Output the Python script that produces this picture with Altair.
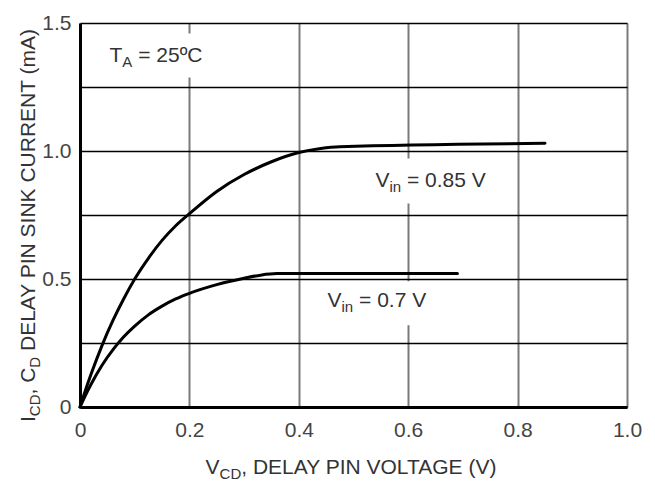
import altair as alt
import pandas as pd

# ---------------- data ----------------
x_085 = [0, 0.01, 0.02, 0.04, 0.06, 0.08, 0.10, 0.125, 0.15, 0.175, 0.20, 0.25, 0.30, 0.35, 0.40, 0.44, 0.475, 0.85]
y_085 = [0, 0.066, 0.127, 0.239, 0.337, 0.423, 0.50, 0.581, 0.651, 0.708, 0.755, 0.842, 0.908, 0.958, 0.994, 1.010, 1.017, 1.03]

x_070 = [0, 0.01, 0.02, 0.04, 0.06, 0.08, 0.10, 0.125, 0.15, 0.175, 0.20, 0.25, 0.30, 0.33, 0.36, 0.69]
y_070 = [0, 0.046, 0.088, 0.162, 0.223, 0.274, 0.316, 0.360, 0.394, 0.422, 0.444, 0.478, 0.503, 0.515, 0.521, 0.521]

x_ticks = [0, 0.2, 0.4, 0.6, 0.8, 1.0]
y_ticks = [0, 0.25, 0.5, 0.75, 1.0, 1.25, 1.5]

# label anchors (data coordinates) and masks that cut the grid behind labels
ann_x = [0.054, 0.540, 0.4525]
ann_y = [1.348, 0.859, 0.390]
mask_x1 = [0.04, 0.53, 0.44]
mask_x2 = [0.26, 0.77, 0.64]
mask_y1 = [1.2875, 0.795, 0.319]
mask_y2 = [1.459, 0.971, 0.491]

# ---------------- style ----------------
FONT = "Liberation Sans"
MAIN = 21
SUB = 15
SUBDY = 5
TXT = "#333333"
W, H = 547, 384

ARIAL = {' ': 278, ',': 278, '.': 278, '=': 584, '(': 333, ')': 333, 'º': 366,
         'A': 667, 'C': 722, 'D': 722, 'E': 667, 'G': 778, 'I': 278, 'K': 667,
         'L': 556, 'N': 722, 'O': 778, 'P': 667, 'R': 722, 'S': 667, 'T': 611,
         'U': 722, 'V': 667, 'Y': 667, 'i': 222, 'n': 556, 'm': 833}


def tw(s, size):
    return sum(ARIAL.get(c, 556) for c in s) * size / 1000.0


def segments(parts):
    """parts: list of (text, is_sub) -> list of (text, dx, dy, size)"""
    out, off = [], 0.0
    for t, sub in parts:
        size = SUB if sub else MAIN
        lead = len(t) - len(t.lstrip(" "))
        off += tw(" " * lead, size)
        t = t.lstrip(" ")
        out.append((t, off, SUBDY if sub else 0, size))
        off += tw(t, size)
    return out, off


xs = alt.Scale(domain=[0, 1], nice=False, zero=False)
ys = alt.Scale(domain=[0, 1.5], nice=False, zero=False)

xaxis = alt.Axis(values=x_ticks, title=None, grid=True, gridColor="#7a7a7a", gridWidth=2,
                 domainColor="black", domainWidth=3, ticks=False, labelPadding=12,
                 labelFont=FONT, labelFontSize=MAIN, labelColor="#444444",
                 labelFlush=False, labelOverlap=False,
                 labelExpr="datum.value == 0 ? '0' : format(datum.value, '.1f')")
yaxis = alt.Axis(values=y_ticks, title=None, grid=True, gridColor="black", gridWidth=1.5,
                 domainColor="black", domainWidth=3, ticks=False, labelPadding=9,
                 labelFont=FONT, labelFontSize=MAIN, labelColor="#444444",
                 labelFlush=False, labelOverlap=False,
                 labelExpr="datum.value == 0 ? '0' : (round(datum.value*4) % 2 == 0 ? format(datum.value, '.1f') : '')")

curves = pd.DataFrame({
    "x": x_085 + x_070,
    "y": y_085 + y_070,
    "series": ["Vin = 0.85 V"] * len(x_085) + ["Vin = 0.7 V"] * len(x_070),
})
masks = pd.DataFrame({"x": mask_x1, "x2": mask_x2, "y": mask_y1, "y2": mask_y2})

mask_layer = alt.Chart(masks).mark_rect(color="white").encode(
    x=alt.X("x:Q", scale=xs, axis=xaxis), x2="x2:Q",
    y=alt.Y("y:Q", scale=ys, axis=yaxis), y2="y2:Q")

line_layer = alt.Chart(curves).mark_line(color="black", strokeWidth=3, interpolate="monotone",
                                         strokeCap="round").encode(
    x=alt.X("x:Q", scale=xs, axis=xaxis),
    y=alt.Y("y:Q", scale=ys, axis=yaxis),
    detail="series:N")

layers = [mask_layer, line_layer]

# annotations inside the plot (with subscripts)
ann_parts = [
    [("T", False), ("A", True), (" = 25ºC", False)],
    [("V", False), ("in", True), (" = 0.85 V", False)],
    [("V", False), ("in", True), (" = 0.7 V", False)],
]
for i, parts in enumerate(ann_parts):
    segs, _ = segments(parts)
    pt = pd.DataFrame({"x": [ann_x[i]], "y": [ann_y[i]]})
    for t, dx, dy, size in segs:
        layers.append(alt.Chart(pt).mark_text(
            text=t, align="left", baseline="alphabetic", dx=dx, dy=dy,
            font=FONT, fontSize=size, color=TXT).encode(
            x=alt.X("x:Q", scale=xs, axis=xaxis),
            y=alt.Y("y:Q", scale=ys, axis=yaxis)))

# axis titles (with subscripts)
xt_segs, xt_w = segments([("V", False), ("CD", True), (", DELAY PIN VOLTAGE (V)", False)])
x_start = W / 2.0 - xt_w / 2.0
for t, dx, dy, size in xt_segs:
    layers.append(alt.Chart(pd.DataFrame({"a": [0]})).mark_text(
        text=t, align="left", baseline="alphabetic", dx=dx, dy=dy,
        font=FONT, fontSize=size, color=TXT).encode(
        x=alt.value(x_start), y=alt.value(H + 67)))

yt_segs, yt_w = segments([("I", False), ("CD", True), (", C", False), ("D", True),
                          (" DELAY PIN SINK CURRENT (mA)", False)])
y_start = 399
for t, dx, dy, size in yt_segs:
    layers.append(alt.Chart(pd.DataFrame({"a": [0]})).mark_text(
        text=t, align="left", baseline="alphabetic", angle=270, dx=dx, dy=dy,
        font=FONT, fontSize=size, color=TXT).encode(
        x=alt.value(-45), y=alt.value(y_start)))

chart = alt.layer(*layers).properties(
    width=W, height=H,
    autosize=alt.AutoSizeParams(type="none"),
    padding={"left": 72, "top": 15, "right": 20, "bottom": 77},
).configure_view(stroke=None).configure(background="white")

chart.save("out.html", embed_options={"renderer": "svg", "actions": False})
